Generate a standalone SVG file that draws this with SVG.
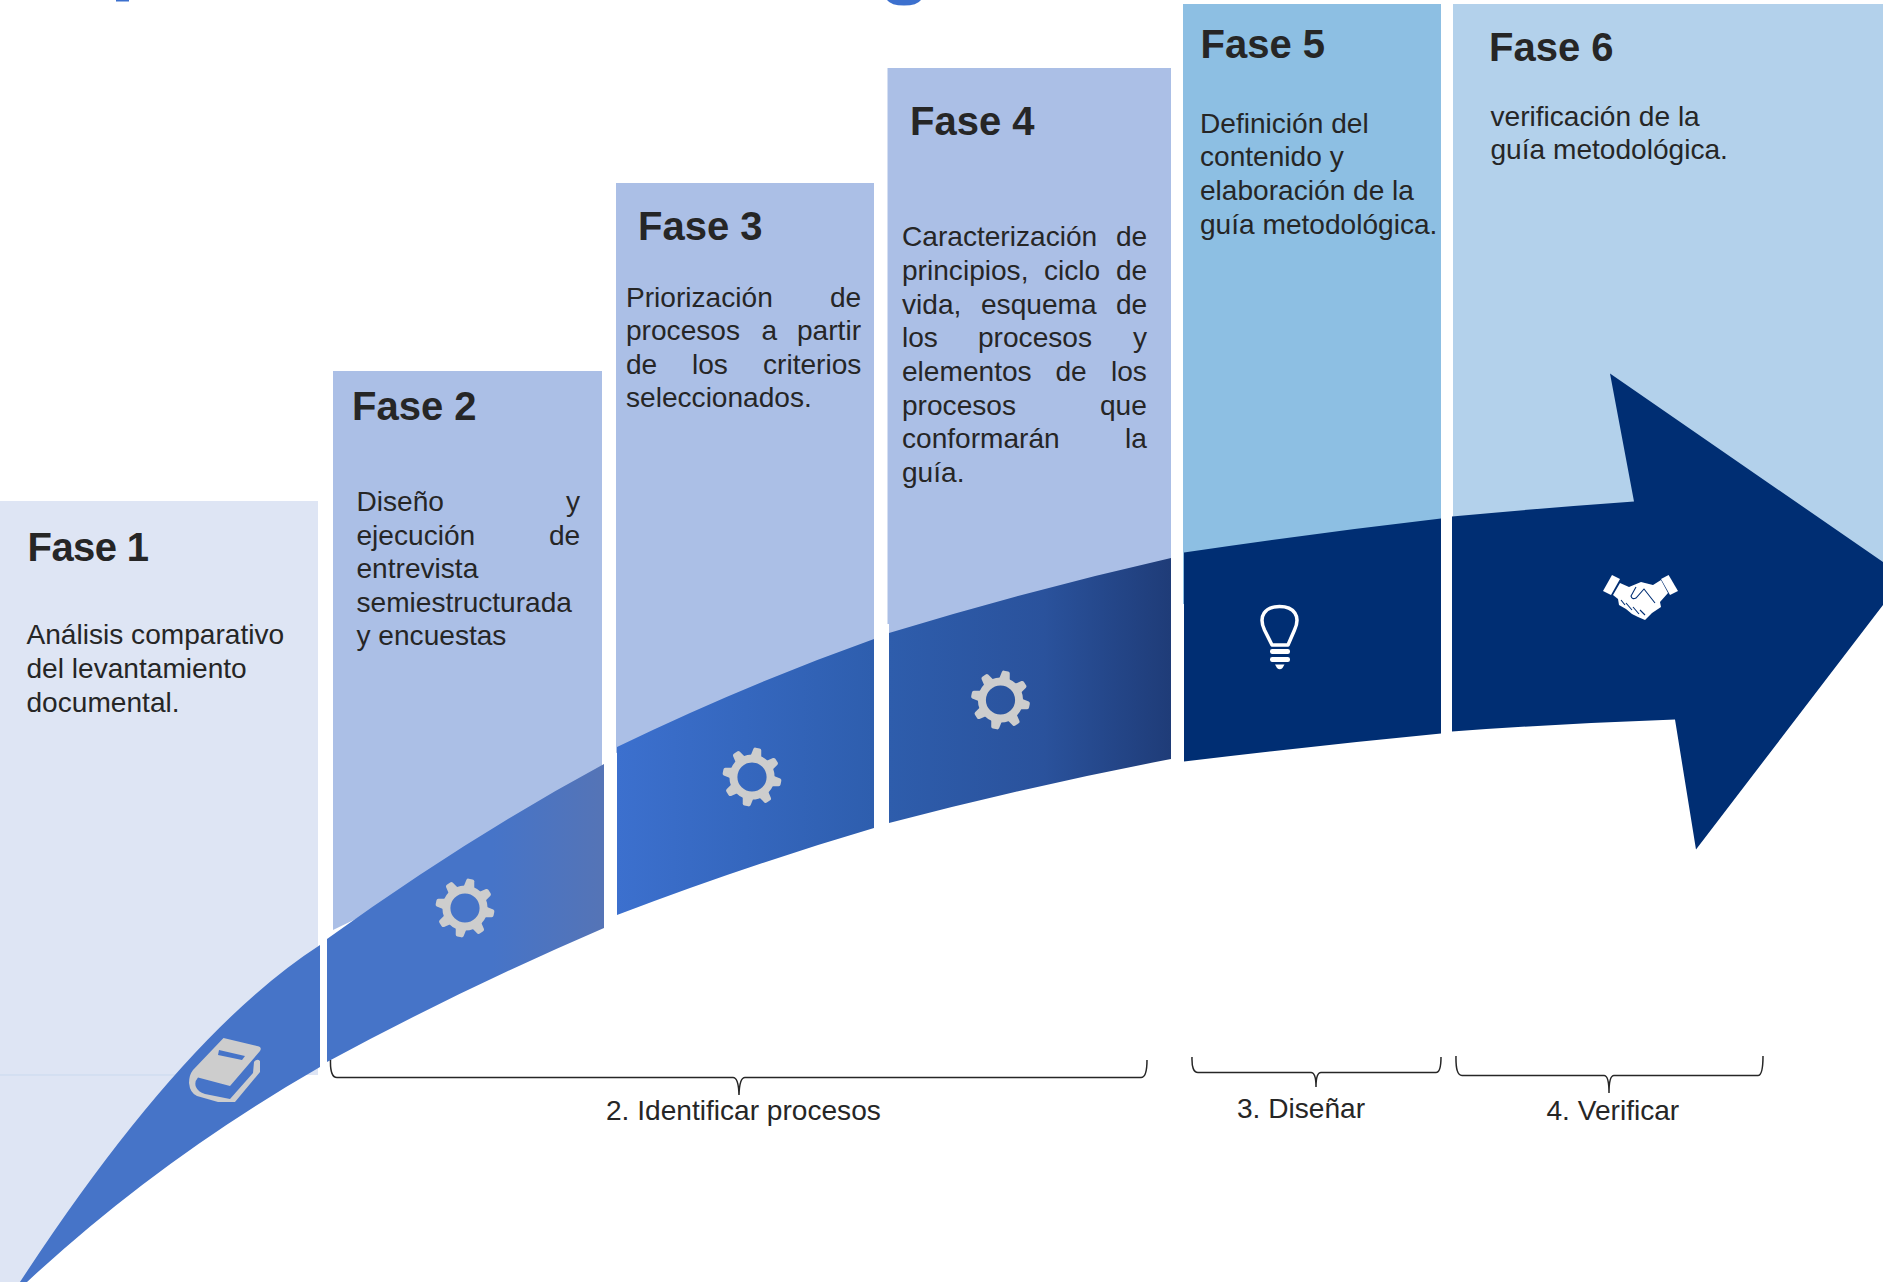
<svg xmlns="http://www.w3.org/2000/svg" width="1883" height="1282" viewBox="0 0 1883 1282">
<style>
.h{font:bold 40px "Liberation Sans",Arial,sans-serif;fill:#262626}
.t{font:28.1px "Liberation Sans",Arial,sans-serif;fill:#262626}
.p{fill:#ABBFE6}
.br{fill:none;stroke:#262626;stroke-width:1.5}
</style>
<defs>
<linearGradient id="g2" gradientUnits="userSpaceOnUse" x1="327" y1="0" x2="604" y2="0"><stop offset="0.6" stop-color="#4674C8"/><stop offset="1" stop-color="#5574B6"/></linearGradient>
<linearGradient id="g3" gradientUnits="userSpaceOnUse" x1="617" y1="0" x2="874" y2="0"><stop offset="0" stop-color="#3C70CE"/><stop offset="1" stop-color="#2E5EAE"/></linearGradient>
<linearGradient id="g4" gradientUnits="userSpaceOnUse" x1="889" y1="0" x2="1171" y2="0"><stop offset="0" stop-color="#2E5DAC"/><stop offset="0.55" stop-color="#2A529C"/><stop offset="1" stop-color="#1F3C78"/></linearGradient>
<g id="gear">
<circle r="18.6" fill="none" stroke="#CDCDCD" stroke-width="8"/>
<g fill="#CDCDCD">
<path id="tooth" d="M-5.5,-20 L-4,-28 Q-3.5,-29.5 -2,-29.5 H2 Q3.5,-29.5 4,-28 L5.5,-20 Z" transform="rotate(11)"/>
<path d="M-5.5,-20 L-4,-28 Q-3.5,-29.5 -2,-29.5 H2 Q3.5,-29.5 4,-28 L5.5,-20 Z" transform="rotate(56)"/>
<path d="M-5.5,-20 L-4,-28 Q-3.5,-29.5 -2,-29.5 H2 Q3.5,-29.5 4,-28 L5.5,-20 Z" transform="rotate(101)"/>
<path d="M-5.5,-20 L-4,-28 Q-3.5,-29.5 -2,-29.5 H2 Q3.5,-29.5 4,-28 L5.5,-20 Z" transform="rotate(146)"/>
<path d="M-5.5,-20 L-4,-28 Q-3.5,-29.5 -2,-29.5 H2 Q3.5,-29.5 4,-28 L5.5,-20 Z" transform="rotate(191)"/>
<path d="M-5.5,-20 L-4,-28 Q-3.5,-29.5 -2,-29.5 H2 Q3.5,-29.5 4,-28 L5.5,-20 Z" transform="rotate(236)"/>
<path d="M-5.5,-20 L-4,-28 Q-3.5,-29.5 -2,-29.5 H2 Q3.5,-29.5 4,-28 L5.5,-20 Z" transform="rotate(281)"/>
<path d="M-5.5,-20 L-4,-28 Q-3.5,-29.5 -2,-29.5 H2 Q3.5,-29.5 4,-28 L5.5,-20 Z" transform="rotate(326)"/>
</g>
</g>
</defs>

<g id="title-fragments" fill="#3C70CE">
<rect x="116" y="0" width="13" height="1.5"/>
<path d="M887,0 H921 Q917,5.5 904,5.5 Q891,5.5 887,0 Z"/>
</g>

<g id="fase1">
<polygon points="0,501 318,501 318,1075 290,1075 100,1200 27,1282 0,1282" fill="#DEE5F4"/>
<line x1="0" y1="1075" x2="178" y2="1075" stroke="#C9D9EE" stroke-width="1"/>
<path d="M20,1282 Q182,1034 320,945 V1067 Q158,1160 27,1282 Z" fill="#4674C8"/>
<path d="M223.5,1038 L259,1046.5 Q262,1048 260,1051 L230,1086 L198,1077.5 Q194,1082 196,1087 Q198,1092 205,1094 L230,1099 L253,1073 L254,1062 Q257,1058 260,1061 L260,1072 L235,1102 L218,1102 L197,1096 Q190,1093 189,1083 Q189,1075 193,1070 Z M219,1050 L245,1056 L242,1060 L218,1055 Z" fill="#CDCDCD" fill-rule="evenodd"/>
<text class="h" x="27.6" y="560.5" textLength="121.5">Fase 1</text>
<text class="t" x="26.5" y="643.5">Análisis comparativo</text>
<text class="t" x="26.5" y="677.5">del levantamiento</text>
<text class="t" x="26.5" y="711.5">documental.</text>
</g>

<g id="fase2">
<polygon class="p" points="333,371 602,371 602,800 333,930"/>
<path d="M327,939 Q467,838 604,764 V928 Q460,990 327,1062 Z" fill="url(#g2)"/>
<use href="#gear" x="465" y="908"/>
<text class="h" x="352" y="420">Fase 2</text>
<text class="t" y="511"><tspan x="356.5">Diseño</tspan><tspan x="566">y</tspan></text>
<text class="t" y="544.6"><tspan x="356.5">ejecución</tspan><tspan x="549">de</tspan></text>
<text class="t" x="356.5" y="578.2">entrevista</text>
<text class="t" x="356.5" y="611.8">semiestructurada</text>
<text class="t" x="356.5" y="645.4">y encuestas</text>
</g>

<g id="fase3">
<polygon class="p" points="616,183 874,183 874,680 616,753"/>
<path d="M617,747 Q745,685 874,639 V828 Q745,866 617,915 Z" fill="url(#g3)"/>
<use href="#gear" x="752" y="777"/>
<text class="h" x="638" y="240">Fase 3</text>
<text class="t" y="306.5"><tspan x="626">Priorización</tspan><tspan x="830">de</tspan></text>
<text class="t" y="340"><tspan x="626">procesos</tspan><tspan x="761.5">a</tspan><tspan x="797">partir</tspan></text>
<text class="t" y="373.6"><tspan x="626">de</tspan><tspan x="692">los</tspan><tspan x="763">criterios</tspan></text>
<text class="t" x="626" y="407.2">seleccionados.</text>
</g>

<g id="fase4">
<polygon class="p" points="887.5,68 1171,68 1171,600 889,640 889,624 887.5,624"/>
<path d="M889,633 Q1030,590 1171,558 V759 Q1030,786 889,823 Z" fill="url(#g4)"/>
<use href="#gear" x="1000.5" y="700"/>
<text class="h" x="910" y="134.5">Fase 4</text>
<text class="t" y="246"><tspan x="902">Caracterización</tspan><tspan x="1116">de</tspan></text>
<text class="t" y="279.8"><tspan x="902">principios,</tspan><tspan x="1044">ciclo</tspan><tspan x="1116">de</tspan></text>
<text class="t" y="313.6"><tspan x="902">vida,</tspan><tspan x="981">esquema</tspan><tspan x="1116">de</tspan></text>
<text class="t" y="347.2"><tspan x="902">los</tspan><tspan x="978">procesos</tspan><tspan x="1133">y</tspan></text>
<text class="t" y="381"><tspan x="902">elementos</tspan><tspan x="1055.5">de</tspan><tspan x="1111">los</tspan></text>
<text class="t" y="414.6"><tspan x="902">procesos</tspan><tspan x="1100">que</tspan></text>
<text class="t" y="448.2"><tspan x="902">conformarán</tspan><tspan x="1125">la</tspan></text>
<text class="t" x="902" y="481.8">guía.</text>
</g>

<g id="fase5">
<rect x="1183" y="4" width="258" height="600" fill="#8DBFE3"/>
<path d="M1184,552.5 Q1312,533.5 1441,518.5 V733.5 Q1312,746 1184,761.5 Z" fill="#002E73"/>
<path d="M1272,645 L1264.5,630 C1258,616 1265,606.5 1279.5,606.5 C1294,606.5 1301,616 1294.5,630 L1288,645 Z" fill="none" stroke="#fff" stroke-width="3.5" stroke-linejoin="round"/>
<rect x="1270" y="649" width="20" height="5" rx="2.2" fill="#fff"/>
<rect x="1270" y="657" width="20" height="5" rx="2.2" fill="#fff"/>
<path d="M1275,664.5 H1284.5 L1282.5,668 Q1279.7,670.5 1277,668 Z" fill="#fff"/>
<text class="h" x="1200.5" y="57.5">Fase 5</text>
<text class="t" x="1200" y="132.7">Definición del</text>
<text class="t" x="1200" y="166.4">contenido y</text>
<text class="t" x="1200" y="200">elaboración de la</text>
<text class="t" x="1200" y="233.8">guía metodológica.</text>
</g>

<g id="fase6">
<polygon points="1453,4 1883,4 1883,570 1700,540 1453,540" fill="#B3D1EB"/>
<path d="M1452,516.5 Q1543,508 1634,501.5 L1610,373.5 L1883,562 V605 L1696,849.5 L1675,719.5 Q1563,723.5 1452,731.5 Z" fill="#002E73"/>
<g id="handshake">
<polygon points="1612,575 1620,579 1611,595 1603,591" fill="#fff"/>
<polygon points="1668.6,575 1678,591 1670,595 1661,579" fill="#fff"/>
<polygon points="1620,583 1629,587 1641,582 1653,585 1661,580 1668,593 1660,602 1661,607 1652,613 1645,620 1638,617 1632,614 1626,609 1619,605 1618,599 1613,595" fill="#fff"/>
<path d="M1655,603 L1644,589 L1636,598 Q1632,600 1631,596 L1636,587" fill="none" stroke="#002E73" stroke-width="1.1"/>
<path d="M1621,600 L1625,605 M1626,603 L1632,610 M1633,607 L1639,614 M1640,610 L1645,615" fill="none" stroke="#002E73" stroke-width="1.1"/>
</g>
<text class="h" x="1489" y="60.5">Fase 6</text>
<text class="t" x="1490.5" y="126">verificación de la</text>
<text class="t" x="1490.5" y="159">guía metodológica.</text>
</g>

<g id="connectors">
<path class="br" d="M330.5,1060 Q330,1077.5 337,1077.5 H733 Q738.5,1077.5 739,1095 Q739.5,1077.5 745,1077.5 H1141 Q1147,1077.5 1147,1060"/>
<path class="br" d="M1192,1057 Q1191.5,1072.5 1198,1072.5 H1311 Q1316,1072.5 1316,1087 Q1316,1072.5 1321,1072.5 H1436 Q1441,1072.5 1441,1057"/>
<path class="br" d="M1456,1056 Q1455.5,1075.5 1462,1075.5 H1604 Q1609,1075.5 1609,1093 Q1609,1075.5 1614,1075.5 H1758 Q1763,1075.5 1763,1056"/>
</g>

<g id="label-identificar"><text class="t" x="606" y="1119.5">2. Identificar procesos</text></g>
<g id="label-disenar"><text class="t" x="1237" y="1117.5">3. Diseñar</text></g>
<g id="label-verificar"><text class="t" x="1546.5" y="1119.5">4. Verificar</text></g>
</svg>
